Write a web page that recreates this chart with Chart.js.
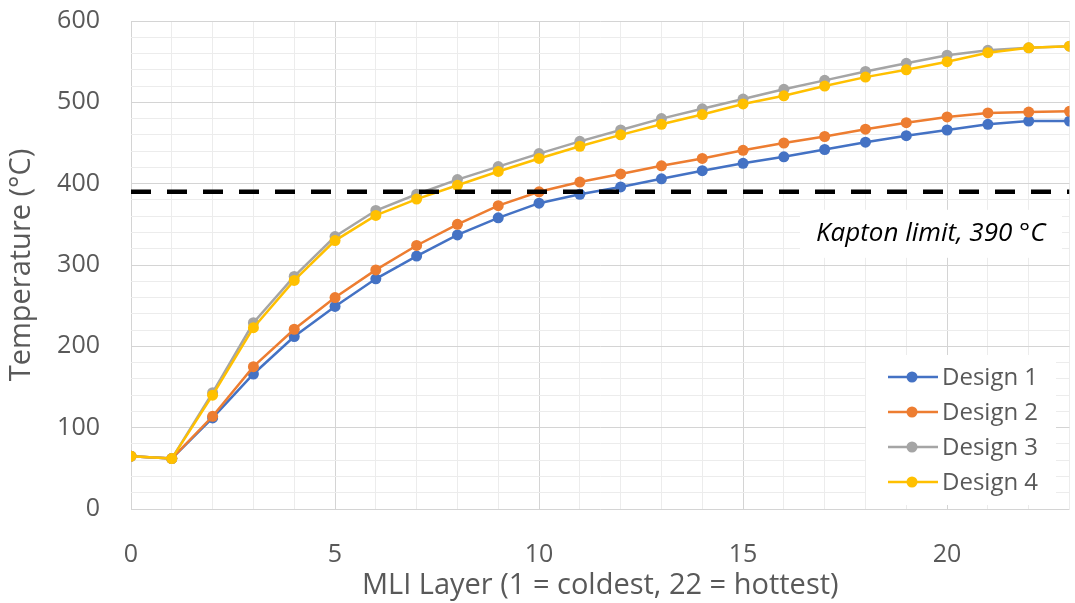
<!DOCTYPE html>
<html>
<head>
<meta charset="utf-8">
<script src="https://cdn.jsdelivr.net/npm/chart.js@4"></script>
<style>
  html, body { margin: 0; padding: 0; background: #fff; }
  #wrap { width: 1075px; height: 603px; }
</style>
</head>
<body>
<div id="wrap"><canvas id="tempChart"></canvas></div>
<script>
// MLI layer index (x)
const layers = [0, 1, 2, 3, 4, 5, 6, 7, 8, 9, 10, 11, 12, 13, 14, 15, 16, 17, 18, 19, 20, 21, 22, 23];

// temperatures (°C)
const design1 = [65, 62, 112, 166, 212, 249, 283, 311, 337, 358, 376, 387, 396, 406, 416, 425, 433, 442, 451, 459, 466, 473, 477, 477];
const design2 = [65, 62, 114, 175, 221, 260, 294, 324, 350, 373, 390, 402, 412, 422, 431, 441, 450, 458, 467, 475, 482, 487, 488, 489];
const design3 = [65, 62, 143, 229, 286, 335, 367, 387, 405, 421, 437, 452, 466, 480, 492, 504, 516, 527, 538, 548, 558, 564, 567, 569];
const design4 = [65, 62, 140, 223, 281, 330, 361, 381, 398, 415, 431, 446, 460, 473, 485, 498, 508, 520, 531, 540, 550, 561, 567, 569];

const seriesNames = ['Design 1', 'Design 2', 'Design 3', 'Design 4'];
const seriesColors = ['#4472C4', '#ED7D31', '#A5A5A5', '#FFC000'];

const kaptonLimit = 390;
const kaptonLabel = 'Kapton limit, 390 °C';
const xTitle = 'MLI Layer (1 = coldest, 22 = hottest)';
const yTitle = 'Temperature (°C)';

const FONT = '"Open Sans", "Noto Sans", sans-serif';
const TEXT = '#595959';

const toPoints = (vals) => vals.map((v, i) => ({ x: layers[i], y: v }));

const allSeries = [design1, design2, design3, design4];
const datasets = allSeries.map((vals, i) => ({
    label: seriesNames[i],
    data: toPoints(vals),
    borderColor: seriesColors[i],
    backgroundColor: seriesColors[i],
    borderWidth: 2.5,
    pointRadius: 5.5,
    pointBorderWidth: 0,
    pointHoverRadius: 5.5,
    order: allSeries.length - i
}));

datasets.push({
    label: 'limit',
    data: [{ x: layers[0], y: kaptonLimit }, { x: layers[layers.length - 1], y: kaptonLimit }],
    borderColor: '#000',
    borderWidth: 4.5,
    borderDash: [20, 16],
    pointRadius: 0,
    order: -1
});

// legend + annotation drawn inside the plot area
const overlay = {
    id: 'overlay',
    afterDatasetsDraw(chart) {
        const { ctx } = chart;
        const ys = chart.scales.y;
        ctx.save();

        // Kapton label
        ctx.font = 'italic 26px ' + FONT;
        const ly = ys.getPixelForValue(kaptonLimit) + 42;
        ctx.fillStyle = '#fff';
        ctx.fillRect(800, ly - 24, 262, 48);
        ctx.fillStyle = '#000';
        ctx.textBaseline = 'middle';
        ctx.textAlign = 'left';
        ctx.fillText(kaptonLabel, 816, ly);

        // legend
        ctx.fillStyle = '#fff';
        ctx.fillRect(866, 355, 190, 150);
        ctx.font = '24px ' + FONT;
        chart.data.datasets.slice(0, 4).forEach((ds, i) => {
            const y = 377 + i * 35;
            ctx.strokeStyle = ds.borderColor;
            ctx.lineWidth = 2.5;
            ctx.beginPath();
            ctx.moveTo(888, y);
            ctx.lineTo(938, y);
            ctx.stroke();
            ctx.fillStyle = ds.borderColor;
            ctx.beginPath();
            ctx.arc(912, y, 5.5, 0, Math.PI * 2);
            ctx.fill();
            ctx.fillStyle = TEXT;
            ctx.fillText(ds.label, 942, y + 1);
        });
        ctx.restore();
    }
};

new Chart(document.getElementById('tempChart'), {
    type: 'line',
    data: { datasets },
    options: {
        responsive: true,
        maintainAspectRatio: false,
        animation: false,
        layout: { padding: { top: 21, right: 3, left: 0, bottom: 0 } },
        plugins: { legend: { display: false }, tooltip: { enabled: false } },
        scales: {
            x: {
                type: 'linear',
                min: 0,
                max: 23,
                afterFit: (s) => {
                    s.height = 94;
                    s.paddingLeft = 0;
                    s.paddingRight = 0;
                },
                ticks: {
                    stepSize: 1,
                    autoSkip: false,
                    maxRotation: 0,
                    padding: 31,
                    color: TEXT,
                    font: { family: FONT, size: 25 },
                    callback: (v) => (v % 5 === 0 ? v : '')
                },
                grid: {
                    drawTicks: false,
                    color: (c) => (c.tick && c.tick.value % 5 === 0 ? '#d4d4d4' : '#ececec'),
                    lineWidth: 1
                },
                border: { display: false },
                title: {
                    display: true,
                    text: xTitle,
                    color: TEXT,
                    font: { family: FONT, size: 29 },
                    padding: { top: 0, bottom: 0 }
                }
            },
            y: {
                min: 0,
                max: 600,
                afterFit: (s) => {
                    s.width = 131;
                    s.paddingTop = 0;
                    s.paddingBottom = 0;
                },
                ticks: {
                    stepSize: 20,
                    autoSkip: false,
                    padding: 31,
                    color: TEXT,
                    font: { family: FONT, size: 25 },
                    callback: (v) => (v % 100 === 0 ? v : '')
                },
                grid: {
                    drawTicks: false,
                    color: (c) => (c.tick && c.tick.value % 100 === 0 ? '#d4d4d4' : '#ececec'),
                    lineWidth: 1
                },
                border: { display: false },
                title: {
                    display: true,
                    text: yTitle,
                    color: TEXT,
                    font: { family: FONT, size: 29 },
                    padding: { top: 4, bottom: 0 }
                }
            }
        }
    },
    plugins: [overlay]
});
</script>
</body>
</html>
